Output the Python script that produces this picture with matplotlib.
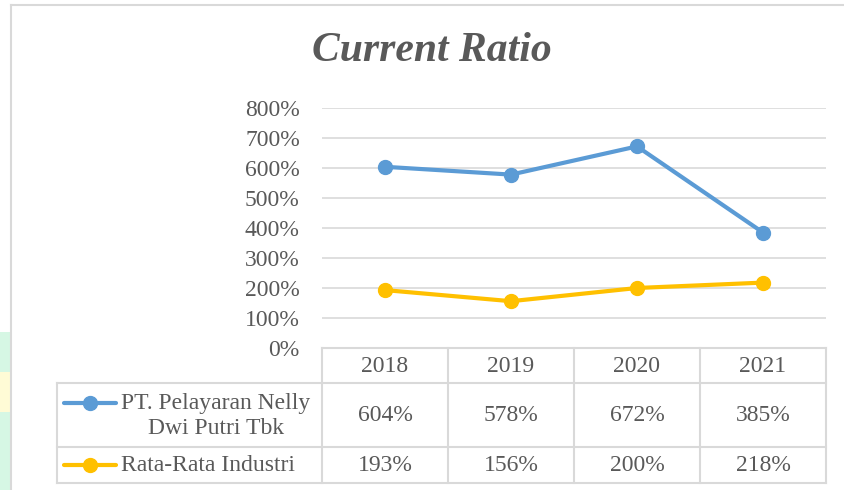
import matplotlib.pyplot as plt
from matplotlib.patches import Rectangle

years = ['2018', '2019', '2020', '2021']
nelly = [604, 578, 672, 385]
industri = [193, 156, 200, 218]
series_names = ['PT. Pelayaran Nelly\nDwi Putri Tbk', 'Rata-Rata Industri']
y_ticks = [0, 100, 200, 300, 400, 500, 600, 700, 800]

blue = '#5B9BD5'
gold = '#FFC000'
txt = '#595959'
grid = '#D9D9D9'
serif = ['Liberation Serif', 'DejaVu Serif']
fs = 17

W, H = 844, 490
fig = plt.figure(figsize=(W / 100, H / 100), dpi=100)

# plot area in pixels: x 322..826, y 108 (800%) .. 348 (0%)
px_l, px_r, px_t, px_b = 322, 826, 108, 348
ax = fig.add_axes([px_l / W, 1 - px_b / H, (px_r - px_l) / W, (px_b - px_t) / H])

x = range(len(years))
ax.plot(x, nelly, color=blue, lw=3, marker='o', ms=10, solid_capstyle='round', zorder=3)
ax.plot(x, industri, color=gold, lw=3, marker='o', ms=10, solid_capstyle='round', zorder=3)
ax.set_xlim(-0.5, len(years) - 0.5)
ax.set_ylim(0, 800)
ax.set_yticks(y_ticks)
ax.set_yticklabels([f'{v}%' for v in y_ticks], fontsize=fs, color=txt, family=serif)
ax.tick_params(axis='y', length=0, pad=16)
ax.set_xticks([])
ax.grid(axis='y', color=grid, lw=1.2)
ax.set_axisbelow(True)
for s in ax.spines.values():
    s.set_visible(False)

# overlay in pixel coords for frame + data table
ov = fig.add_axes([0, 0, 1, 1], zorder=-1)
ov.set_xlim(0, W)
ov.set_ylim(H, 0)
ov.axis('off')
ov.patch.set_alpha(0)

# page artefact stripe on left
ov.add_patch(Rectangle((0, 332), 10, 160, color='#D6F7E4', lw=0))
ov.add_patch(Rectangle((0, 372), 10, 40, color='#FFFBD6', lw=0))

# chart frame
ov.plot([11, 11], [5, H], color=grid, lw=1.5)
ov.plot([11, W], [5, 5], color=grid, lw=1.5)

ov2 = fig.add_axes([0, 0, 1, 1], zorder=5)
ov2.set_xlim(0, W)
ov2.set_ylim(H, 0)
ov2.axis('off')
ov2.patch.set_alpha(0)

col_w = (px_r - px_l) / len(years)
rows = [348, 383, 447, 483]
tl = 57
lc = dict(color=grid, lw=1.5)
ov2.plot([px_l, px_r], [rows[0], rows[0]], **lc)
for r in rows[1:]:
    ov2.plot([tl, px_r], [r, r], **lc)
ov2.plot([tl, tl], [rows[1], rows[3]], **lc)
for i in range(len(years) + 1):
    xx = px_l + i * col_w
    ov2.plot([xx, xx], [rows[0], rows[3]], **lc)

tk = dict(fontsize=fs, color=txt, family=serif, va='center', ha='center')
for i, yr in enumerate(years):
    cx = px_l + (i + 0.5) * col_w
    ov2.text(cx, (rows[0] + rows[1]) / 2 + 1, yr, **tk)
    ov2.text(cx, (rows[1] + rows[2]) / 2, f'{nelly[i]}%', **tk)
    ov2.text(cx, (rows[2] + rows[3]) / 2, f'{industri[i]}%', **tk)

# legend keys
for yk, c in [(403, blue), (465, gold)]:
    ov2.plot([64, 116], [yk, yk], color=c, lw=3, solid_capstyle='round')
    ov2.plot([90], [yk], 'o', color=c, ms=10)
ov2.text(121, 416, series_names[0], fontsize=fs, color=txt, family=serif,
         va='center', ha='left', multialignment='center', linespacing=1.25)
ov2.text(121, 465, series_names[1], fontsize=fs, color=txt, family=serif,
         va='center', ha='left')

fig.text(432 / W, 1 - 51 / H, 'Current Ratio', fontsize=30, color=txt,
         family=serif, weight='bold', style='italic', ha='center', va='center')

fig.savefig('out.png', dpi=100)
